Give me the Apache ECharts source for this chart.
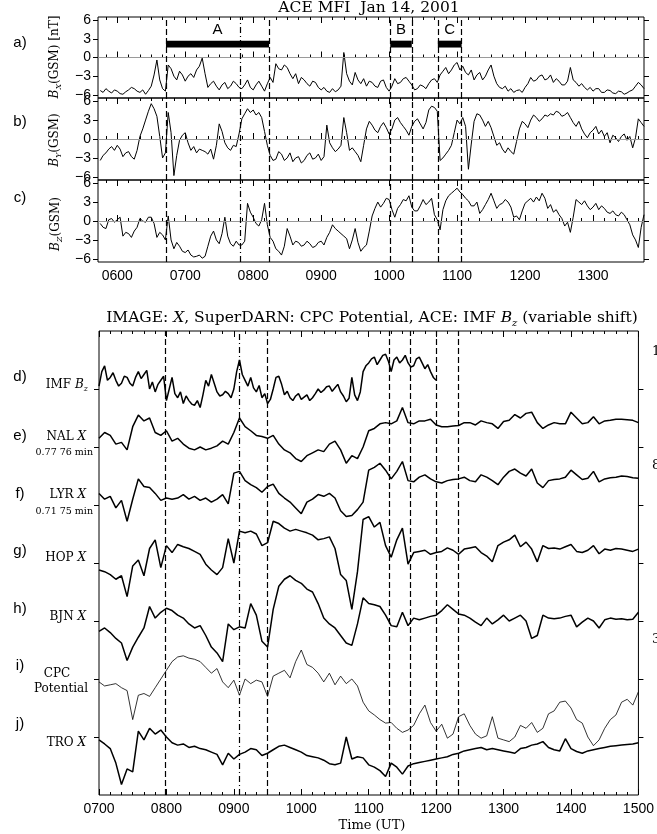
<!DOCTYPE html>
<html>
<head>
<meta charset="utf-8">
<script src="https://cdn.jsdelivr.net/npm/echarts@6/dist/echarts.min.js"></script>
<style>
  html, body { margin: 0; background: #fff; }
  #chart { width: 657px; height: 834px; }
</style>
</head>
<body>
<div id="chart"></div>
<script>
// ACE MFI, one value every 2.5 min starting 05:45 (minutes of day), nT
const aceStart = 345, aceStep = 2.5
const bx = [
  -5.3,-5.6,-5.0,-5.4,-5.7,-5.2,-5.4,-5.8,-5.9,-5.5,-5.2,-4.8,-5.0,-5.4,-5.6,-5.2,-5.9,-5.3,-4.6,-2.8,-0.4,-3.6,-5.0,-5.4,
  -1.2,-1.8,-3.0,-3.6,-2.2,-2.8,-3.8,-3.0,-2.6,-3.2,-2.0,-1.4,-0.1,-2.6,-4.8,-4.2,-3.8,-4.6,-5.2,-4.4,-4.0,-5.0,-4.6,-3.8,
  -4.2,-4.8,-5.0,-4.4,-3.6,-4.8,-5.2,-4.4,-3.8,-4.6,-5.4,-4.2,-3.2,-4.0,-1.0,-1.8,-2.0,-1.2,-1.6,-2.6,-3.4,-2.6,-4.2,-3.2,
  -3.6,-4.2,-4.6,-3.8,-4.0,-4.8,-5.2,-4.8,-5.4,-5.6,-5.0,-5.5,-5.2,-4.6,0.8,-2.6,-3.8,-4.4,-2.4,-3.6,-4.2,-3.4,-4.6,-3.8,
  -4.0,-4.6,-4.8,-3.8,-3.6,-4.8,-5.4,-4.6,-3.4,-4.2,-4.0,-3.4,-3.2,-3.8,-4.4,-5.2,-5.0,-4.4,-4.6,-5.0,-4.2,-3.6,-3.4,-4.0,
  -2.8,-2.2,-1.6,-2.6,-2.0,-1.2,-0.8,-2.0,-1.4,-2.4,-2.8,-2.0,-3.6,-2.8,-2.4,-3.6,-3.0,-2.0,-1.2,-3.0,-4.2,-4.8,-5.0,-4.6,
  -5.4,-5.0,-5.6,-5.3,-5.2,-5.6,-4.8,-4.2,-3.2,-3.8,-3.6,-3.0,-2.8,-3.6,-3.4,-2.8,-4.0,-3.4,-3.8,-4.4,-4.4,-3.8,-1.6,-3.6,
  -4.0,-4.6,-4.2,-4.8,-5.2,-4.8,-5.4,-5.0,-5.0,-5.6,-5.6,-5.2,-5.3,-5.7,-5.8,-5.4,-5.5,-5.9,-5.7,-5.4,-5.2,-4.6,-4.0,-4.4,
  -5.0
]
const by = [
  -3.4,-2.6,-2.2,-1.6,-1.2,-1.8,-1.0,-1.6,-2.8,-2.2,-2.0,-2.8,-3.2,-1.8,0.4,1.6,3.0,4.4,5.6,4.8,3.6,0.4,-3.0,-2.2,
  4.2,1.0,-5.8,-2.6,-0.2,0.6,1.0,-0.6,-1.8,-1.2,-2.2,-1.6,-1.8,-2.0,-2.4,-1.6,-3.2,-1.0,2.4,1.2,-0.6,-1.4,-1.8,-1.0,
  -1.2,0.8,3.2,4.0,4.8,4.2,4.6,3.8,4.2,3.4,1.2,-1.0,-2.6,-3.4,-3.2,-2.0,-2.4,-3.4,-3.0,-2.2,-3.6,-3.0,-2.8,-3.8,
  -3.4,-2.6,-2.2,-3.2,-3.0,-2.4,-3.4,-2.8,2.2,-0.6,-1.4,-2.0,-1.6,-1.0,3.4,1.0,-1.8,-1.4,-2.0,-2.6,-3.6,-1.0,1.6,2.8,
  2.2,1.4,1.0,2.0,2.6,1.8,0.8,1.6,3.0,3.4,2.6,2.0,1.4,0.6,2.0,2.8,3.2,2.4,1.6,2.6,4.6,5.2,5.0,4.4,
  -3.4,-3.0,-2.4,-1.8,-1.0,1.0,3.0,2.4,3.4,2.0,-4.8,-0.8,2.8,4.0,3.8,3.0,2.0,2.8,1.8,0.4,-1.0,-0.6,-1.6,-2.2,
  -1.4,-2.0,-2.4,-0.4,1.6,2.8,2.4,1.8,3.0,3.8,3.4,2.8,3.2,3.8,3.6,4.0,3.8,4.4,4.2,3.6,3.8,4.2,3.4,2.6,
  2.0,2.8,1.6,0.8,0.2,1.0,1.4,2.0,0.8,1.4,0.4,1.0,-0.6,0.6,0.2,-0.4,0.4,0.8,-0.2,0.4,-1.4,0.2,3.2,2.6,
  2.0
]
const bz = [
  -0.4,-1.0,-1.2,0.2,0.4,-0.2,0.2,0.6,-2.4,-1.8,-2.0,-2.6,-1.6,-1.0,0.4,0.0,-0.2,0.6,0.6,-0.4,-2.6,-1.8,-2.2,-3.0,
  0.8,-3.0,-4.4,-3.4,-4.0,-4.8,-5.0,-4.6,-5.4,-5.7,-5.6,-5.4,-5.9,-5.6,-4.0,-2.4,-1.6,-3.0,-3.6,-2.0,0.6,-2.4,-3.6,-4.0,
  -3.2,-3.8,-3.8,-3.2,2.8,1.4,0.6,-0.4,-0.8,0.2,2.8,-0.6,-2.6,-3.2,-4.4,-4.8,-5.4,-4.0,-1.2,-2.4,-3.8,-3.2,-3.4,-4.0,
  -3.8,-3.2,-3.6,-4.2,-4.0,-3.4,-3.2,-3.8,-2.6,-1.8,-0.6,-1.2,-1.6,-2.0,-2.4,-2.8,-4.4,-3.0,-1.2,-3.4,-4.8,-4.2,-3.8,-1.6,
  0.8,2.0,3.0,2.2,2.8,3.6,3.4,1.8,0.6,2.0,2.6,3.4,3.2,4.0,2.2,1.6,1.6,2.4,3.4,2.6,3.0,3.6,1.0,0.2,
  -1.4,1.8,3.2,4.0,4.4,4.8,5.2,4.6,4.2,3.6,3.2,2.4,2.4,3.0,1.2,1.8,2.6,3.4,4.4,3.2,2.0,2.6,2.8,3.4,
  3.0,2.2,0.6,0.8,0.2,1.6,2.8,3.2,3.6,3.0,3.8,3.2,4.4,3.6,2.0,2.6,1.4,1.8,1.0,0.4,-0.8,-0.2,-1.8,0.6,
  3.4,3.0,2.6,3.2,2.4,1.8,2.2,2.8,1.8,2.4,2.0,1.4,1.2,1.6,1.0,0.8,1.4,1.0,0.2,-0.6,-2.2,-3.0,-4.2,-1.0,
  1.0
]

// stacked traces from 07:00, in stack units (baselines are the ticks 7..1)
const stackStart = 420, stackStep = 5, imfStep = 2.5
const imfBz = [
  7.05,7.30,7.40,7.15,7.20,7.28,7.15,7.05,7.10,7.22,7.20,7.10,7.05,7.20,7.30,7.18,7.25,7.32,7.00,7.12,6.95,7.08,7.15,7.22,
  6.80,7.00,7.20,6.92,6.85,6.95,6.75,6.88,6.80,6.74,6.72,6.80,6.68,6.90,7.15,7.05,7.25,7.10,6.95,6.88,6.90,6.96,6.92,6.85,
  7.00,7.30,7.50,7.25,7.15,7.05,7.20,7.02,6.95,7.06,6.85,6.92,6.75,6.82,7.00,7.20,7.22,7.08,6.90,6.96,6.85,6.80,6.88,6.92,
  6.82,6.86,6.90,6.80,6.85,6.92,7.00,6.94,6.98,7.04,7.05,6.96,7.02,7.08,6.95,6.88,6.78,6.84,7.20,6.90,6.80,6.95,7.30,7.40,
  7.45,7.52,7.55,7.42,7.50,7.58,7.60,7.48,7.30,7.50,7.55,7.45,7.50,7.58,7.45,7.38,7.40,7.52,7.55,7.45,7.35,7.42,7.30,7.20,
  7.15
]
const nal = [
  6.15,6.25,6.20,6.05,6.08,5.95,6.35,6.55,6.45,6.50,6.25,6.20,
  6.28,6.10,6.15,6.05,5.98,5.95,6.00,5.95,5.98,6.02,6.10,6.05,
  6.25,6.50,6.35,6.28,6.20,6.18,6.15,6.20,6.05,5.95,5.90,5.80,
  5.75,5.85,5.90,5.95,5.92,6.05,6.10,5.95,5.72,5.85,5.80,6.00,
  6.28,6.32,6.40,6.42,6.40,6.45,6.68,6.42,6.40,6.45,6.45,6.48,
  6.38,6.35,6.35,6.36,6.37,6.42,6.42,6.38,6.45,6.42,6.40,6.32,
  6.44,6.46,6.56,6.50,6.58,6.60,6.42,6.32,6.38,6.42,6.40,6.40,
  6.60,6.50,6.40,6.42,6.52,6.40,6.45,6.46,6.48,6.48,6.47,6.46,
  6.42
]
const lyr = [
  5.20,5.10,5.15,4.95,5.08,4.72,5.10,5.45,5.32,5.30,5.20,5.08,
  5.12,5.10,5.12,5.18,5.10,5.15,5.08,5.12,5.05,5.10,5.18,5.02,
  5.55,5.58,5.42,5.35,5.30,5.22,5.32,5.36,5.20,5.12,5.05,4.95,
  4.85,5.05,5.10,5.18,5.15,5.20,5.12,4.90,4.80,4.82,4.92,5.05,
  5.60,5.65,5.72,5.60,5.45,5.58,5.75,5.42,5.40,5.48,5.52,5.45,
  5.40,5.38,5.42,5.44,5.45,5.48,5.42,5.40,5.52,5.48,5.42,5.35,
  5.48,5.58,5.62,5.55,5.50,5.62,5.38,5.30,5.42,5.44,5.45,5.48,
  5.60,5.52,5.44,5.46,5.58,5.40,5.45,5.47,5.48,5.50,5.49,5.47,
  5.46
]
const hop = [
  3.88,3.85,3.80,3.72,3.78,3.42,3.95,4.05,3.78,4.25,4.40,3.92,
  4.30,4.18,4.32,4.28,4.25,4.20,4.15,3.98,3.88,3.80,3.92,4.42,
  4.00,4.55,4.52,4.55,4.50,4.30,4.35,4.72,4.68,4.60,4.55,4.58,
  4.55,4.52,4.48,4.40,4.42,4.45,4.25,3.80,3.70,3.20,3.85,4.75,
  4.80,4.62,4.70,4.30,4.10,4.40,4.60,3.98,4.18,4.20,4.22,4.15,
  4.18,4.20,4.26,4.22,4.15,4.24,4.26,4.28,4.18,4.12,4.02,4.30,
  4.36,4.40,4.48,4.28,4.36,4.24,4.02,4.30,4.25,4.26,4.24,4.28,
  4.32,4.20,4.18,4.22,4.30,4.16,4.24,4.22,4.25,4.24,4.22,4.20,
  4.24
]
const bjn = [
  2.82,2.88,2.80,2.70,2.62,2.32,2.55,2.72,2.88,3.25,3.05,3.15,
  3.22,3.18,3.10,3.05,2.95,2.88,2.92,2.75,2.55,2.45,2.30,2.95,
  2.85,2.90,2.88,3.30,3.10,2.65,2.55,3.20,3.60,3.72,3.78,3.70,
  3.65,3.55,3.50,3.30,3.05,2.95,2.88,2.75,2.62,2.58,2.95,3.40,
  3.30,3.28,3.25,3.10,2.92,2.90,3.15,2.92,3.05,3.02,3.05,3.08,
  3.10,3.18,3.28,3.20,3.12,3.10,3.05,2.98,2.92,3.05,2.95,3.02,
  3.10,3.00,3.05,3.10,3.00,2.70,2.75,3.10,3.05,3.04,3.05,3.08,
  3.10,2.90,2.98,3.05,3.00,2.88,3.02,3.05,3.03,3.04,3.02,3.03,
  3.15
]
const cpc = [
  1.95,1.88,1.90,1.92,1.85,1.80,1.30,1.72,1.75,1.70,1.85,2.00,
  2.15,2.30,2.38,2.40,2.36,2.34,2.30,2.20,2.10,2.18,1.95,1.85,
  1.98,1.72,2.00,1.92,1.98,1.95,1.70,2.05,2.10,2.15,2.02,2.30,
  2.50,2.25,2.20,2.10,1.95,2.10,1.90,2.05,1.92,2.00,1.88,1.60,
  1.45,1.38,1.30,1.24,1.25,1.15,1.08,1.12,1.20,1.40,1.55,1.25,
  1.10,1.22,0.98,1.05,1.35,1.40,1.20,1.05,0.98,1.02,1.35,0.98,
  0.95,0.92,1.00,1.20,1.15,1.25,1.08,1.15,1.40,1.45,1.60,1.62,
  1.50,1.30,1.24,1.00,0.85,0.95,1.15,1.30,1.38,1.60,1.65,1.55,
  1.78
]
const tro = [
  0.95,0.88,0.80,0.55,0.18,0.45,0.40,1.10,0.95,1.15,1.05,1.12,
  1.00,0.90,0.86,0.88,0.82,0.84,0.80,0.78,0.74,0.70,0.52,0.72,
  0.62,0.70,0.74,0.80,0.78,0.68,0.72,0.78,0.84,0.86,0.82,0.78,
  0.74,0.68,0.66,0.64,0.60,0.54,0.52,0.55,1.00,0.62,0.66,0.64,
  0.52,0.48,0.42,0.32,0.55,0.48,0.36,0.50,0.54,0.56,0.58,0.60,
  0.62,0.64,0.66,0.70,0.72,0.76,0.78,0.80,0.82,0.78,0.80,0.78,
  0.76,0.74,0.72,0.80,0.82,0.86,0.88,0.92,0.82,0.78,0.76,0.97,
  0.80,0.75,0.72,0.76,0.78,0.80,0.82,0.84,0.85,0.86,0.87,0.88,
  0.90
]

// event markers (minutes of day)
const topMarks = [403, 469, 494, 601, 620, 643, 664]
const topMarkKinds = ['dash', 'dashdot', 'dash', 'dash', 'dash', 'dash', 'dash']
const bars = [['A', 403, 494], ['B', 601, 620], ['C', 643, 664]]
const stackMarks = [479, 545, 570, 678, 697, 720, 740]
const stackMarkKinds = ['dash', 'dashdot', 'dash', 'dash', 'dash', 'dash', 'dash']

// axes ticks
const topHours = [360, 420, 480, 540, 600, 660, 720, 780]
const stackHours = [420, 480, 540, 600, 660, 720, 780, 840, 900]
const fieldTicks = [-6, -3, 0, 3, 6]
const stackTicks = [1, 2, 3, 4, 5, 6, 7]

const serif = 'DejaVu Serif'
const sans = 'Liberation Sans'
const dashes = { dash: [6, 3], dashdot: [6, 3, 1, 3] }

function tenMinutes(from, to, skip) {
  const out = []
  for (let t = from; t <= to; t += 10) if (skip.indexOf(t) < 0) out.push(t)
  return out
}
const fmtTime = v => String(Math.round(v / 60)).padStart(2, '0') + '00'
const fmtField = v => (v < 0 ? '\u2212' + (-v) : String(v))
const toPairs = (start, step, arr) => arr.map((v, i) => [start + i * step, v])

function timeAxes(gi, min, max, major, minor, withLabels) {
  const base = { gridIndex: gi, type: 'value', min, max, splitLine: { show: false }, axisLine: { show: false } }
  const tick = (len, vals) => ({ show: true, inside: true, length: len, customValues: vals, lineStyle: { color: '#000', width: 1 } })
  const off = { show: false }
  return [
    Object.assign({}, base, {
      position: 'bottom', axisTick: tick(6, major),
      axisLabel: withLabels ? { show: true, customValues: major, formatter: fmtTime, color: '#000', fontFamily: sans, fontSize: 14, margin: 7 } : off
    }),
    Object.assign({}, base, { position: 'bottom', axisTick: tick(3, minor), axisLabel: off }),
    Object.assign({}, base, { position: 'top', axisTick: tick(6, major), axisLabel: off }),
    Object.assign({}, base, { position: 'top', axisTick: tick(3, minor), axisLabel: off })
  ]
}
function valueAxes(gi, min, max, ticks, withLabels) {
  const base = { gridIndex: gi, type: 'value', min, max, splitLine: { show: false }, axisLine: { show: false } }
  const tick = { show: true, inside: false, length: 5, customValues: ticks, lineStyle: { color: '#000' } }
  return [
    Object.assign({}, base, {
      position: 'left', axisTick: tick,
      axisLabel: withLabels ? { show: true, customValues: ticks, formatter: fmtField, color: '#000', fontFamily: sans, fontSize: 14, margin: 7 } : { show: false }
    }),
    Object.assign({}, base, { position: 'right', axisTick: tick, axisLabel: { show: false } })
  ]
}

const topMinor = tenMinutes(350, 820, topHours)
const stackMinor = tenMinutes(430, 890, stackHours)

const grid = [
  { left: 98, right: 13, top: 17, height: 81 },
  { left: 98, right: 13, top: 98, height: 82 },
  { left: 98, right: 13, top: 180, height: 82 },
  { left: 99, right: 14, top: 331, height: 464 }
].map(g => Object.assign(g, { show: true, borderColor: '#000', borderWidth: 1 }))

const xAxis = [].concat(
  timeAxes(0, 343, 825, topHours, topMinor, false),
  timeAxes(1, 343, 825, topHours, topMinor, false),
  timeAxes(2, 343, 825, topHours, topMinor, true),
  timeAxes(3, 420, 900, stackHours, stackMinor, true)
)
const yAxis = [].concat(
  valueAxes(0, -6.5, 6.5, fieldTicks, true),
  valueAxes(1, -6.5, 6.5, fieldTicks, true),
  valueAxes(2, -6.5, 6.5, fieldTicks, true),
  valueAxes(3, 0, 8, stackTicks, false)
)

function vertMarks(marks, kinds, withZero) {
  const data = marks.map((x, i) => ({ xAxis: x, lineStyle: { color: '#000', width: 1.2, type: dashes[kinds[i]] } }))
  if (withZero) data.unshift({ yAxis: 0, lineStyle: { color: '#9a9a9a', width: 1, type: 'solid' } })
  return { symbol: ['none', 'none'], silent: true, label: { show: false }, emphasis: { disabled: true }, data }
}

const series = []
;[bx, by, bz].forEach((arr, gi) => {
  series.push({
    type: 'line', xAxisIndex: gi * 4, yAxisIndex: gi * 2, symbol: 'none', z: 3,
    lineStyle: { color: '#000', width: 1 },
    data: toPairs(aceStart, aceStep, arr),
    markLine: vertMarks(topMarks, topMarkKinds, true)
  })
})
series.push({
  type: 'custom', xAxisIndex: 0, yAxisIndex: 0, z: 4,
  data: bars.map(b => [b[1], b[2]]),
  renderItem(params, api) {
    const from = api.value(0), to = api.value(1)
    const p1 = api.coord([from, 2.7])
    const p2 = api.coord([to, 1.6])
    const c = api.coord([(from + to) / 2, 4.4])
    return {
      type: 'group',
      children: [
        { type: 'rect', shape: { x: p1[0], y: p1[1], width: p2[0] - p1[0], height: p2[1] - p1[1] }, style: { fill: '#000' } },
        { type: 'text', x: c[0], y: c[1], style: { text: bars[params.dataIndex][0], fill: '#000', font: '15px ' + sans, align: 'center', verticalAlign: 'middle' } }
      ]
    }
  }
})
const stack = [imfBz, nal, lyr, hop, bjn, cpc, tro]
stack.forEach((arr, i) => {
  const s = {
    type: 'line', xAxisIndex: 12, yAxisIndex: 6, symbol: 'none', z: 3,
    lineStyle: { color: '#000', width: arr === cpc ? 0.8 : 1.5 },
    data: toPairs(stackStart, arr === imfBz ? imfStep : stackStep, arr)
  }
  if (i === 0) s.markLine = vertMarks(stackMarks, stackMarkKinds, false)
  series.push(s)
})

// texts
const richSerif = {
  r: { fontFamily: serif, fontSize: 12, color: '#000', lineHeight: 16 },
  i: { fontFamily: serif, fontSize: 12, fontStyle: 'italic', color: '#000', lineHeight: 16 },
  s: { fontFamily: serif, fontSize: 8, fontStyle: 'italic', color: '#000', lineHeight: 8, verticalAlign: 'bottom' },
  small: { fontFamily: serif, fontSize: 9.5, color: '#000' }
}
const txt = (text, x, y, opts) => ({
  type: 'text', x, y, rotation: (opts && opts.rot) || 0,
  style: Object.assign({ text, fill: '#000', align: 'center', verticalAlign: 'middle', rich: richSerif, font: '12px ' + serif }, opts && opts.style)
})
const panelLabels = [
  ['a)', 43], ['b)', 122], ['c)', 198], ['d)', 377], ['e)', 436], ['f)', 494],
  ['g)', 551], ['h)', 609], ['i)', 666], ['j)', 724]
]
const graphic = [
  txt('ACE MFI  Jan 14, 2001', 369, 8, { style: { font: '15.5px ' + serif } }),
  txt('IMAGE: {ti|X}, SuperDARN: CPC Potential, ACE: IMF {ti|B}{ts|z} (variable shift)', 372, 318, {
    style: { font: '15.5px ' + serif, rich: {
      ti: { fontFamily: serif, fontSize: 15.5, fontStyle: 'italic', lineHeight: 20 },
      ts: { fontFamily: serif, fontSize: 10, fontStyle: 'italic', lineHeight: 10, verticalAlign: 'bottom' }
    } }
  }),
  txt('Time (UT)', 372, 826, { style: { font: '13px ' + serif } }),
  txt('{i|B}{s|X}{r|(GSM) [nT]}', 55, 57, { rot: Math.PI / 2 }),
  txt('{i|B}{s|Y}{r|(GSM)}', 55, 140, { rot: Math.PI / 2 }),
  txt('{i|B}{s|Z}{r|(GSM)}', 56, 224, { rot: Math.PI / 2 }),
  txt('{r|IMF }{i|B}{s|z}', 88, 385, { style: { align: 'right' } }),
  txt('{r|NAL }{i|X}', 86, 437, { style: { align: 'right' } }),
  txt('{small|0.77 76 min}', 93, 453, { style: { align: 'right' } }),
  txt('{r|LYR }{i|X}', 86, 495, { style: { align: 'right' } }),
  txt('{small|0.71 75 min}', 93, 512, { style: { align: 'right' } }),
  txt('{r|HOP }{i|X}', 86, 558, { style: { align: 'right' } }),
  txt('{r|BJN }{i|X}', 86, 617, { style: { align: 'right' } }),
  txt('{r|CPC}', 57, 674),
  txt('{r|Potential}', 61, 689),
  txt('{r|TRO }{i|X}', 86, 743, { style: { align: 'right' } }),
  txt('1', 652, 352, { style: { align: 'left', font: '13px ' + serif } }),
  txt('8', 652, 466, { style: { align: 'left', font: '13px ' + serif } }),
  txt('3', 652, 640, { style: { align: 'left', font: '13px ' + serif } })
].concat(panelLabels.map(p => txt(p[0], 20, p[1], { style: { font: '15px ' + sans } })))

const chart = echarts.init(document.getElementById('chart'))
chart.setOption({
  animation: false,
  backgroundColor: '#fff',
  grid, xAxis, yAxis, series, graphic
})
</script>
</body>
</html>
